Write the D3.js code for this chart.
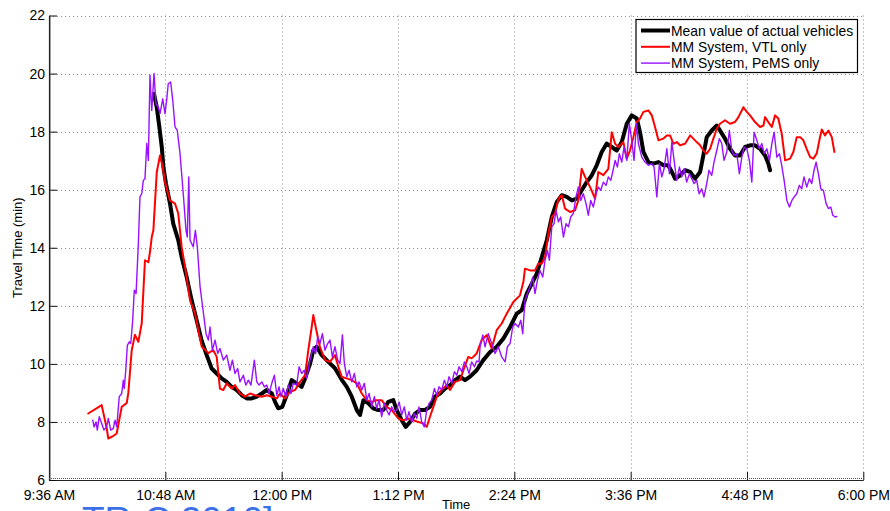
<!DOCTYPE html>
<html>
<head>
<meta charset="utf-8">
<script src="https://cdn.jsdelivr.net/npm/d3@7"></script>
<style>
  html, body { margin: 0; padding: 0; background: #fff; }
  svg { display: block; font-family: "Liberation Sans", Arial, Helvetica, sans-serif; }
</style>
</head>
<body>
<svg id="chart" width="890" height="511"></svg>
<script>
// Travel time along the corridor, minutes after 9:36 AM -> travel time (min)
const actualMean = [
  [65.0,19.3],[66.7,18.84],[68.3,18.16],[69.8,17.47],[70.8,16.78],[72.4,16.21],[74.9,15.52],[76.9,14.83],
  [80.0,14.26],[82.1,13.68],[85.2,12.99],[88.3,12.19],[91.4,11.5],[94.5,10.8],[97.6,10.3],[100.7,9.84],
  [103.8,9.67],[106.9,9.5],[110.0,9.38],[113.1,9.21],[116.2,9.1],[119.3,8.92],[122.4,8.81],[125.5,8.81],
  [128.6,8.87],[131.7,8.98],[134.8,9.1],[137.9,8.98],[139.9,8.69],[141.9,8.47],[144.4,8.52],[147.1,8.92],
  [150.2,9.44],[153.3,9.33],[156.4,9.21],[158.5,9.5],[161.6,10.01],[163.6,10.47],[165.7,10.59],[168.8,10.3],
  [172.9,10.07],[177.0,9.85],[181.2,9.45],[184.3,9.21],[187.4,8.87],[190.5,8.41],[192.5,8.24],[194.6,8.75],
  [197.7,8.64],[200.7,8.47],[203.8,8.41],[206.9,8.41],[210.0,8.69],[213.1,8.75],[215.2,8.41],[218.3,8.06],
  [220.8,7.83],[223.5,8.0],[226.6,8.29],[229.6,8.41],[232.7,8.41],[235.8,8.52],[238.9,8.87],[242.0,8.98],
  [245.1,9.15],[248.2,9.27],[251.3,9.44],[254.4,9.56],[257.5,9.44],[260.6,9.56],[264.7,9.78],[268.8,10.13],
  [273.0,10.41],[277.1,10.59],[281.2,10.87],[285.4,11.27],[289.5,11.73],[292.6,11.85],[295.7,12.42],[298.8,12.76],
  [301.9,13.11],[305.0,13.68],[308.1,14.26],[311.2,15.06],[314.3,15.58],[317.4,15.81],[320.5,15.75],[323.6,15.63],
  [326.7,15.69],[329.7,15.98],[332.8,16.26],[335.9,16.49],[339.0,16.84],[342.1,17.3],[345.2,17.59],[348.3,17.47],
  [351.4,17.35],[354.5,17.64],[357.6,18.27],[360.7,18.56],[363.8,18.45],[365.8,17.98],[367.9,17.3],[371.0,16.95],
  [374.1,16.9],[377.2,16.95],[380.3,16.84],[383.3,16.84],[385.5,16.61],[387.5,16.38],[390.6,16.49],[393.7,16.67],
  [396.8,16.61],[399.9,16.38],[403.0,16.61],[405.0,17.18],[407.1,17.81],[410.2,18.04],[413.3,18.21],[415.3,18.04],
  [418.4,17.76],[421.5,17.41],[424.6,17.18],[427.7,17.18],[430.8,17.47],[433.9,17.53],[437.0,17.53],[440.1,17.41],
  [443.2,17.18],[445.2,16.9],[446.3,16.67]
];

const vtlOnly = [
  [24.3,8.29],[32.6,8.58],[35.7,7.79],[36.7,7.43],[39.3,7.5],[41.9,7.6],[45.0,8.52],[48.1,8.65],[49.1,9.0],
  [51.2,10.47],[53.2,11.0],[55.3,10.76],[57.4,11.4],[59.4,13.57],[61.5,13.5],[62.5,13.85],[63.6,14.37],[64.6,14.6],
  [66.7,16.6],[68.7,17.18],[70.4,16.78],[71.8,16.26],[74.9,15.63],[78.0,15.52],[80.0,15.18],[82.1,14.03],
  [84.2,13.34],[87.3,12.19],[90.4,11.73],[94.5,10.6],[98.6,10.37],[101.7,10.47],[103.8,10.24],[105.8,9.15],
  [107.9,9.1],[110.0,9.33],[113.1,9.15],[115.1,9.27],[118.2,8.98],[121.3,8.87],[124.4,8.98],[127.5,8.92],
  [131.7,8.87],[134.8,8.92],[137.9,8.87],[141.0,8.81],[143.0,8.98],[146.1,8.81],[149.2,9.04],[152.3,9.1],
  [155.4,9.38],[158.5,9.61],[160.5,10.47],[162.6,11.27],[163.6,11.68],[165.7,11.1],[167.7,10.59],[170.8,10.13],
  [173.9,10.07],[177.0,10.3],[179.1,9.9],[181.2,9.55],[184.3,9.5],[187.4,9.44],[190.5,9.33],[193.6,8.98],
  [196.7,8.75],[199.8,8.69],[202.8,8.75],[205.9,8.75],[209.0,8.52],[212.1,8.41],[216.2,8.12],[219.3,8.06],
  [222.4,8.12],[225.5,8.06],[228.6,8.0],[231.7,7.95],[233.8,7.83],[235.8,8.18],[237.9,8.52],[240.0,8.87],
  [243.1,9.1],[246.2,9.27],[248.2,9.1],[251.3,9.38],[254.4,9.44],[256.5,9.78],[259.5,10.24],[261.6,10.19],
  [264.7,10.36],[267.8,10.82],[270.9,10.99],[274.0,10.53],[277.1,11.16],[280.2,11.39],[283.3,11.73],[287.4,12.13],
  [291.5,12.36],[293.6,12.82],[294.6,13.28],[297.7,13.22],[300.8,13.22],[302.9,13.46],[305.0,13.46],[307.0,13.68],
  [309.1,14.49],[311.2,15.06],[313.2,15.18],[315.3,15.69],[317.4,15.81],[319.4,15.35],[322.5,15.23],[325.6,15.29],
  [327.6,15.63],[329.7,16.72],[331.8,16.44],[334.9,16.09],[338.0,15.69],[340.0,16.61],[343.1,16.5],[346.2,16.72],
  [348.3,17.98],[350.4,17.58],[352.4,17.47],[355.5,17.64],[357.6,17.07],[359.6,17.35],[361.7,17.81],[363.8,18.33],
  [365.8,18.45],[367.9,18.68],[371.0,18.73],[373.1,18.56],[375.1,18.16],[377.2,17.7],[380.3,17.76],[382.4,17.87],
  [384.4,17.87],[386.5,17.58],[388.5,17.64],[390.6,17.53],[393.7,17.58],[396.8,17.87],[398.8,17.76],[400.9,17.64],
  [403.0,17.53],[405.0,17.35],[407.1,17.24],[409.2,17.41],[411.2,17.76],[413.3,18.1],[415.3,18.27],[418.4,18.39],
  [421.5,18.27],[424.6,18.33],[426.7,18.5],[429.8,18.84],[431.9,18.68],[433.9,18.56],[437.0,18.33],[440.1,18.16],
  [442.2,18.21],[443.2,18.5],[445.2,18.33],[447.4,18.16],[449.4,18.56],[451.4,18.45],[453.5,17.93],[455.6,17.01],
  [458.7,17.07],[460.7,17.3],[462.8,17.81],[464.9,17.81],[466.9,17.7],[469.0,17.4],[471.1,17.12],[473.1,17.07],
  [475.2,17.25],[476.8,17.7],[478.3,18.07],[480.3,17.87],[482.4,18.04],[484.5,17.81],[486.1,17.3]
];

const pemsOnly = [
  [27.1,8.06],[27.9,7.83],[29.1,8.0],[29.9,7.72],[31.1,8.18],[32.6,7.95],[34.0,7.72],[35.7,7.83],[36.7,8.12],
  [38.2,7.72],[39.8,7.78],[40.9,8.06],[41.9,7.83],[43.5,8.87],[45.0,8.98],[46.0,9.44],[46.6,9.15],[47.5,9.78],
  [48.5,10.64],[49.7,10.76],[50.6,10.7],[51.8,11.5],[52.8,12.54],[53.9,12.42],[55.3,14.14],[56.3,15.75],
  [57.4,15.86],[58.4,16.32],[59.4,16.38],[60.5,17.59],[61.5,17.01],[62.5,19.94],[63.6,18.73],[65.0,20.0],
  [66.2,18.96],[67.7,18.84],[68.7,18.62],[70.4,19.13],[71.8,18.62],[72.9,19.13],[73.8,19.65],[75.3,19.71],
  [76.6,19.07],[78.0,18.16],[79.4,18.04],[81.1,17.24],[83.1,15.86],[84.8,14.6],[85.6,14.37],[86.5,16.44],
  [87.3,14.26],[89.3,14.03],[90.6,14.6],[91.8,14.03],[93.5,12.65],[95.1,11.96],[97.2,11.04],[98.6,10.82],
  [99.7,11.27],[101.1,10.47],[102.8,10.82],[104.4,10.36],[105.8,10.53],[107.9,10.13],[110.0,10.3],[112.0,9.78],
  [113.5,10.13],[115.1,9.67],[116.8,9.84],[118.2,9.38],[120.3,9.61],[121.8,9.27],[123.4,9.44],[125.0,9.27],
  [127.1,10.13],[128.6,9.38],[130.0,9.27],[131.7,9.38],[133.3,9.21],[134.8,9.27],[136.2,8.98],[137.9,9.33],
  [139.5,9.61],[141.0,8.92],[142.4,9.21],[143.6,8.87],[145.0,9.15],[146.5,8.87],[148.1,9.27],[149.8,8.98],
  [151.2,9.33],[153.3,9.27],[154.8,9.9],[156.4,9.67],[158.0,9.78],[159.5,9.5],[161.6,10.13],[163.6,10.59],
  [165.1,10.36],[166.3,10.93],[167.7,10.7],[169.2,11.04],[170.8,10.47],[172.5,10.7],[173.9,10.82],[175.4,10.24],
  [177.0,10.59],[178.7,10.13],[180.1,10.01],[181.6,11.0],[182.8,10.01],[184.3,9.56],[185.7,9.78],[187.4,9.38],
  [189.0,9.67],[190.5,9.21],[191.9,9.38],[193.6,9.1],[195.2,9.33],[196.7,8.75],[198.1,8.98],[199.8,8.52],
  [201.4,8.87],[202.8,8.47],[204.3,8.75],[205.9,8.18],[207.6,8.64],[209.0,8.41],[210.5,8.24],[212.1,8.52],
  [213.7,8.35],[215.2,8.41],[216.7,8.69],[218.3,8.24],[219.9,8.52],[221.4,8.06],[222.8,8.35],[224.5,8.0],
  [226.1,8.29],[227.6,8.12],[229.0,8.52],[230.7,8.0],[232.3,7.83],[233.8,8.41],[235.2,8.64],[236.9,8.75],
  [238.5,9.15],[240.0,8.92],[241.4,9.21],[243.1,9.1],[244.7,9.44],[246.2,9.21],[247.6,9.56],[249.3,9.33],
  [250.9,9.73],[252.4,9.61],[253.8,9.9],[255.5,9.73],[257.1,10.07],[258.6,9.9],[260.0,9.67],[261.6,10.07],
  [263.3,9.9],[264.7,10.1],[266.2,10.07],[266.8,10.59],[268.5,11.0],[269.9,10.59],[271.9,11.04],[274.0,10.7],
  [276.1,10.36],[278.1,10.59],[280.2,10.24],[282.3,10.07],[283.7,10.59],[285.4,10.7],[287.0,11.27],[288.5,11.39],
  [290.5,11.27],[292.0,11.5],[293.2,11.04],[294.6,12.19],[296.1,12.42],[297.7,12.65],[299.4,12.99],[300.8,12.42],
  [302.3,12.88],[303.9,13.22],[305.6,12.99],[307.0,13.57],[308.5,13.91],[309.7,13.57],[311.2,14.72],[312.6,14.83],
  [313.8,15.29],[315.3,14.89],[316.7,15.06],[318.4,14.37],[320.0,14.83],[321.5,14.72],[322.9,15.06],[324.5,15.18],
  [326.2,15.75],[327.6,16.09],[329.1,15.63],[330.7,15.86],[332.4,15.52],[333.8,15.12],[335.3,15.63],[336.9,15.4],
  [338.6,15.86],[340.0,16.09],[341.5,15.98],[343.1,16.26],[344.8,16.15],[346.2,16.44],[347.7,16.32],[348.9,16.61],
  [350.4,17.01],[351.8,16.78],[353.0,17.24],[354.5,16.95],[355.9,17.47],[357.6,17.01],[359.2,18.27],[360.7,17.7],
  [362.1,17.01],[363.6,18.27],[364.8,17.59],[366.9,17.12],[368.9,16.95],[371.0,16.84],[373.1,16.9],[374.5,16.78],
  [376.2,15.75],[377.8,16.9],[379.3,16.44],[380.7,16.72],[382.4,17.41],[384.0,16.55],[385.5,17.64],[386.9,17.01],
  [388.5,16.32],[390.2,16.78],[391.7,16.44],[393.1,16.72],[394.7,16.26],[396.4,16.55],[397.8,16.38],[399.3,16.21],
  [400.9,16.32],[402.4,15.86],[404.0,16.03],[405.4,15.75],[407.1,16.21],[408.5,16.67],[410.2,16.49],[411.6,16.95],
  [413.3,17.35],[414.9,17.76],[416.4,17.59],[417.8,17.01],[419.5,17.3],[421.1,18.04],[422.6,17.35],[424.0,17.18],
  [425.7,17.24],[427.3,16.55],[428.8,17.12],[430.2,17.47],[431.9,17.41],[433.5,17.01],[435.0,16.26],[436.4,17.98],
  [438.1,17.7],[439.7,17.41],[441.2,17.59],[442.6,17.24],[444.3,17.41],[445.9,17.01],[447.4,17.59],[448.8,17.98],
  [450.5,17.12],[452.1,17.24],[453.5,16.84],[455.0,16.32],[456.7,15.63],[458.3,15.4],[459.8,15.63],[461.2,15.75],
  [462.8,15.86],[464.4,16.15],[465.9,16.03],[467.3,16.44],[469.0,16.09],[470.6,16.38],[472.1,16.21],[473.5,16.67],
  [474.8,16.95],[476.2,16.55],[477.7,16.03],[479.3,15.98],[481.0,15.52],[482.4,15.35],[483.9,15.4],[485.1,15.12],
  [486.6,15.06],[487.6,15.08]
];

const yTicks = [6, 8, 10, 12, 14, 16, 18, 20, 22];
const xTickMinutes = [0, 72, 144, 216, 288, 360, 432, 504];
const legendLabels = ["Mean value of actual vehicles", "MM System, VTL only", "MM System, PeMS only"];

const startTime = new Date(2010, 0, 1, 9, 36);
const atMinute = m => new Date(startTime.getTime() + m * 60000);

const svg = d3.select("#chart");
const plotLeft = 49, plotRight = 863.3, plotTop = 15.5, plotBottom = 480;

const x = d3.scaleTime().domain([atMinute(0), atMinute(504)]).range([plotLeft, plotRight]);
const y = d3.scaleLinear().domain([6, 22]).range([plotBottom, plotTop]);

// dotted grid
const grid = svg.append("g").attr("stroke", "#8c8c8c").attr("stroke-width", 1)
  .attr("stroke-dasharray", "1,3").attr("fill", "none");
xTickMinutes.slice(1).forEach(m => {
  const px = Math.round(x(atMinute(m))) + 0.5;
  grid.append("line").attr("x1", px).attr("x2", px).attr("y1", plotTop).attr("y2", plotBottom);
});
yTicks.slice(1).forEach(v => {
  const py = Math.round(y(v)) + 0.5;
  grid.append("line").attr("x1", plotLeft).attr("x2", plotRight).attr("y1", py).attr("y2", py);
});

// series
const line = d3.line().x(d => x(atMinute(d[0]))).y(d => y(d[1]));
const series = [
  { data: actualMean, color: "#000000", width: 4 },
  { data: vtlOnly, color: "#ff0000", width: 2 },
  { data: pemsOnly, color: "#9a10ff", width: 1.4 }
];
series.forEach(s => {
  svg.append("path").datum(s.data).attr("d", line)
    .attr("fill", "none").attr("stroke", s.color).attr("stroke-width", s.width)
    .attr("stroke-linejoin", "round").attr("stroke-linecap", "round");
});

// axes (ticks pointing inward)
const xAxis = d3.axisBottom(x)
  .tickValues(xTickMinutes.map(atMinute))
  .tickFormat(d3.timeFormat("%-I:%M %p"))
  .tickSizeInner(-8).tickSizeOuter(0).tickPadding(5);
const gx = svg.append("g").attr("transform", `translate(0,${plotBottom})`).call(xAxis);
gx.select(".domain").attr("stroke", "#222").attr("stroke-width", 1.2);
gx.selectAll(".tick line").attr("stroke", "#111");
gx.selectAll(".tick text").attr("font-size", 14).attr("fill", "#000").attr("dy", "1.05em");

const yAxis = d3.axisLeft(y).tickValues(yTicks).tickFormat(d3.format("d"))
  .tickSizeInner(-8).tickSizeOuter(0).tickPadding(4);
const gy = svg.append("g").attr("transform", `translate(${plotLeft},0)`).call(yAxis);
gy.select(".domain").attr("stroke", "#222").attr("stroke-width", 1.2);
gy.selectAll(".tick line").attr("stroke", "#111");
gy.selectAll(".tick text").attr("font-size", 14).attr("fill", "#000");
svg.selectAll(".tick text").attr("font-family", "Liberation Sans, Arial, sans-serif");

// fine minor tick texture along the axes
const minor = svg.append("g").attr("stroke", "#555").attr("stroke-width", 1)
  .attr("stroke-dasharray", "1,1").attr("fill", "none");
minor.append("line").attr("x1", plotLeft).attr("x2", plotRight).attr("y1", plotBottom - 1.5).attr("y2", plotBottom - 1.5);
minor.append("line").attr("x1", plotLeft + 1.5).attr("x2", plotLeft + 1.5).attr("y1", plotTop).attr("y2", plotBottom);

// axis titles
svg.append("text").attr("x", (plotLeft + plotRight) / 2).attr("y", 509).attr("text-anchor", "middle")
  .attr("font-size", 13).text("Time");
svg.append("text").attr("transform", `translate(22,${(plotTop + plotBottom) / 2}) rotate(-90)`)
  .attr("text-anchor", "middle").attr("font-size", 13).text("Travel Time (min)");

// legend
const lg = svg.append("g").attr("transform", "translate(636,19.5)");
lg.append("rect").attr("width", 221.5).attr("height", 53).attr("fill", "#fff")
  .attr("stroke", "#000").attr("stroke-width", 1.2);
legendLabels.forEach((label, i) => {
  const ly = 11 + i * 16.3;
  lg.append("line").attr("x1", 5).attr("x2", 34).attr("y1", ly).attr("y2", ly)
    .attr("stroke", series[i].color).attr("stroke-width", series[i].width);
  lg.append("text").attr("x", 35).attr("y", ly).attr("dy", "0.36em")
    .attr("font-size", 13.9).text(label);
});

// citation fragment at the foot of the page
svg.append("text").attr("x", 82).attr("y", 533).attr("font-size", 37)
  .attr("fill", "#3c70e8").text("TR-C 2010]");
</script>
</body>
</html>
